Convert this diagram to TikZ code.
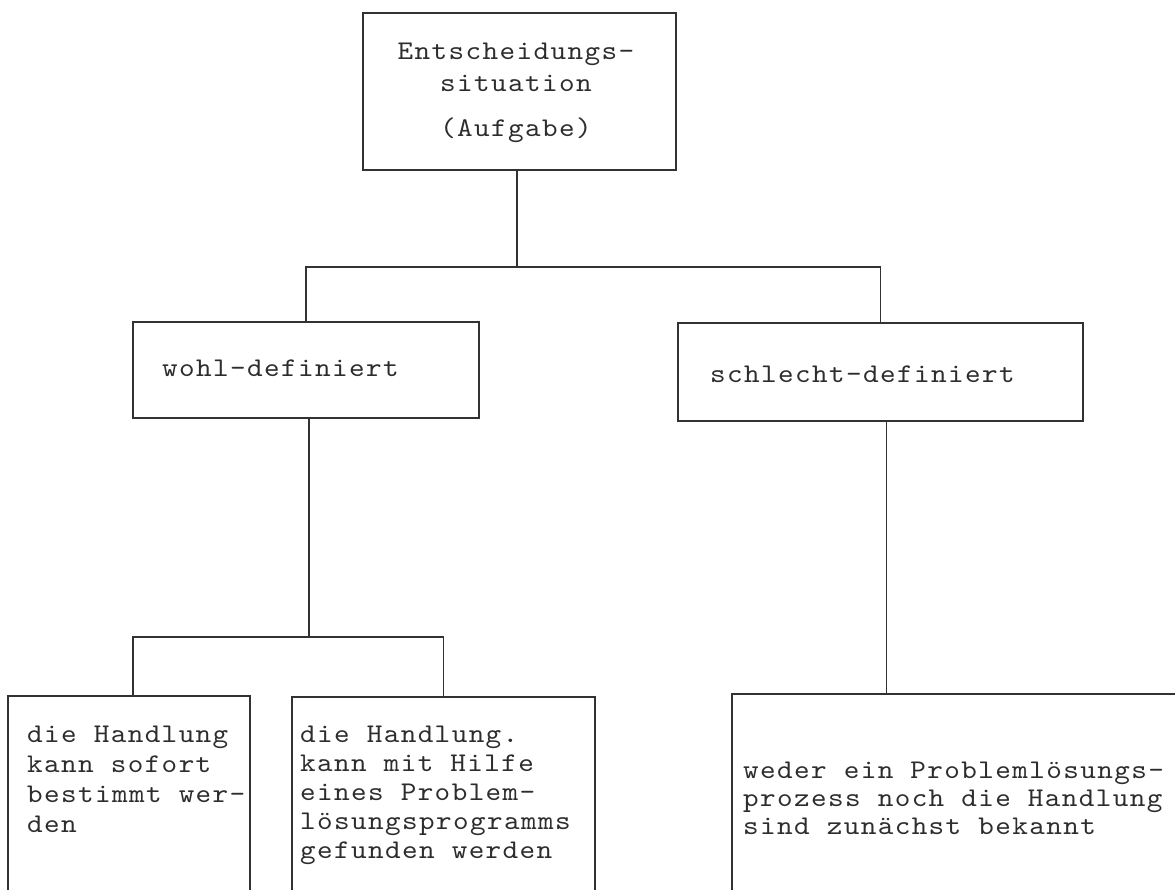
\documentclass[tikz,border=0pt]{standalone}
\usepackage{fontspec}
\newfontfamily\tw{lmmono10-regular.otf}[FakeStretch=1.1,LetterSpace=5.2]
\definecolor{ink}{RGB}{50,50,50}
\definecolor{txt}{RGB}{45,45,45}
\begin{document}
\begin{tikzpicture}[x=1pt,y=-1pt]
\tikzset{
  box/.style={draw=ink, line width=1.8pt, rectangle, inner sep=0pt, outer sep=0pt},
  conn/.style={draw=ink, line width=1.8pt},
  lbl/.style={text=txt, inner sep=0pt, font=\tw\fontsize{27pt}{29.5pt}\selectfont, align=left, anchor=base west}
}
\useasboundingbox (0,0) rectangle (1175,890);
\clip (0,0) rectangle (1175,890);
% boxes
\node[box, minimum width=313pt, minimum height=157pt] (top) at (519.5,91.5) {};
\node[box, minimum width=346pt, minimum height=96pt] (wohl) at (306,370) {};
\node[box, minimum width=405pt, minimum height=98pt] (schlecht) at (880.5,372) {};
\node[box, minimum width=242pt, minimum height=234pt] (b1) at (129,813) {};
\node[box, minimum width=303pt, minimum height=233pt] (b2) at (443.5,813.5) {};
\node[box, minimum width=478pt, minimum height=236pt] (b3) at (971,812) {};
% texts (anchored at the baseline of their last line)
\node[lbl, align=center, anchor=base, font=\tw\fontsize{27pt}{32pt}\selectfont] (ttop) at (516,137) {Entscheidungs-\\situation\\[13pt](Aufgabe)};
\node[lbl] (twohl) at (162,377) {wohl-definiert};
\node[lbl] (tschl) at (710,382) {schlecht-definiert};
\node[lbl, font=\tw\fontsize{27pt}{30pt}\selectfont] (t1) at (27,832) {die Handlung\\kann sofort\\bestimmt wer-\\den};
\node[lbl, font=\tw\fontsize{27pt}{29pt}\selectfont] (t2) at (300,858) {die Handlung.\\kann mit Hilfe\\eines Problem-\\lösungsprogramms\\gefunden werden};
\node[lbl, font=\tw\fontsize{27pt}{28pt}\selectfont] (t3) at (743,834) {weder ein Problemlösungs-\\prozess noch die Handlung\\sind zunächst bekannt};
% connectors
\coordinate (j1) at (517,267);
\coordinate (j2) at (309,637);
\draw[conn] (top.south -| j1) -- (j1);
\draw[conn] (wohl.north) |- (schlecht.north |- j1) -- (schlecht.north);
\draw[conn] (wohl.south -| j2) -- (j2);
\draw[conn] ([xshift=4pt]b1.north) |- (b2.north |- j2) -- (b2.north);
\draw[conn] ([xshift=6pt]schlecht.south) -- ([xshift=6pt]schlecht.south |- b3.north);
\end{tikzpicture}
\end{document}
